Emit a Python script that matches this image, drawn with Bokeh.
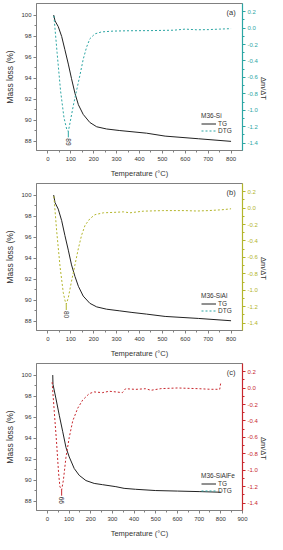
import math
from bokeh.plotting import figure
from bokeh.layouts import column
from bokeh.models import (Range1d, LinearAxis, Legend, LegendItem, Label,
                          FixedTicker, ColumnDataSource, PrintfTickFormatter)
from bokeh.core.properties import value
from bokeh.embed import file_html
from bokeh.resources import INLINE

# ---------------- data ----------------
# Panel (a) M36-Si
a_tg_T = [25, 31, 45, 60, 74, 89, 103, 118, 133, 154, 183, 213, 256, 314, 431, 512, 657, 800]
a_tg_m = [100.0, 99.44, 98.9, 97.96, 96.7, 95.33, 93.94, 92.55, 91.46, 90.54, 89.77, 89.36,
          89.15, 89.0, 88.75, 88.47, 88.22, 87.97]
a_dtg_T = [26, 40, 55, 70, 82, 89, 98, 111, 125, 140, 154, 169, 183, 205, 234, 285, 350, 450,
           550, 600, 650, 700, 750, 800]
a_dtg_v = [0.15, -0.30, -0.76, -1.09, -1.23, -1.26, -1.13, -0.94, -0.76, -0.57, -0.38, -0.23,
           -0.13, -0.07, -0.046, -0.036, -0.032, -0.030, -0.025, -0.012, -0.020, -0.018,
           -0.012, -0.006]
a_peak = ["89"]

# Panel (b) M36-SiAl
b_tg_T = [25, 31, 45, 60, 74, 89, 103, 118, 133, 154, 183, 213, 256, 314, 367, 431, 512, 657, 800]
b_tg_m = [100.0, 99.28, 98.66, 97.56, 96.16, 94.75, 93.35, 92.25, 91.31, 90.38, 89.69, 89.35,
          89.13, 88.97, 88.82, 88.66, 88.44, 88.25, 88.03]
b_dtg_T = [26, 38, 53, 67, 75, 80, 89, 103, 118, 133, 147, 162, 183, 205, 242, 300, 330, 358,
           416, 500, 600, 650, 700, 760, 800]
b_dtg_v = [0.144, -0.275, -0.715, -1.03, -1.13, -1.17, -1.09, -0.89, -0.69, -0.49, -0.33, -0.21,
           -0.13, -0.08, -0.057, -0.050, -0.045, -0.057, -0.037, -0.030, -0.030, -0.035,
           -0.030, -0.020, -0.008]
b_peak = ["80"]

# Panel (c) M36-SiAlFe
c_tg_T = [25, 26, 40, 55, 71, 86, 101, 124, 147, 178, 216, 254, 316, 354, 407, 500, 600, 700, 800]
c_tg_m = [100.0, 99.12, 97.72, 96.17, 94.6, 93.1, 92.2, 91.1, 90.45, 89.95, 89.68, 89.56, 89.37,
          89.21, 89.12, 89.0, 88.95, 88.9, 88.84]
c_dtg_T = [22, 32, 43, 52, 58, 66, 74, 86, 101, 117, 140, 163, 193, 216, 254, 285, 316, 346,
           361, 407, 453, 478, 524, 600, 692, 753, 795, 800]
c_dtg_v = [0.073, -0.285, -0.68, -1.04, -1.20, -1.24, -1.12, -0.84, -0.60, -0.40, -0.245, -0.145,
           -0.067, -0.046, -0.055, -0.038, -0.046, -0.055, -0.007, -0.015, -0.007, -0.026,
           -0.006, 0.002, -0.006, -0.014, -0.014, 0.073]
c_peak = ["66"]

mass_ticks = [88, 90, 92, 94, 96, 98, 100]
dtg_ticks = [-1.4, -1.2, -1.0, -0.8, -0.6, -0.4, -0.2, 0.0, 0.2]

FONT = "Liberation Sans"
TXT = "#333333"
FRAME = "#808080"
LEGEND_DTG = "#2ca6a4"


def panel(tag, sample, tgT, tgm, dT, dv, peak, color, xmax, xticks, tag_x):
    p = figure(width=275, height=180, output_backend="svg", toolbar_location=None,
               x_range=Range1d(-50, xmax), y_range=Range1d(87.1, 101.1),
               min_border_left=36, min_border_right=32, min_border_top=3,
               min_border_bottom=27)
    p.extra_y_ranges = {"dtg": Range1d(-1.49, 0.30)}
    p.xgrid.visible = False
    p.ygrid.visible = False
    p.outline_line_color = FRAME
    p.outline_line_width = 1

    ya = p.yaxis[0]
    ya.ticker = FixedTicker(ticks=mass_ticks, minor_ticks=[t + 1 for t in mass_ticks[:-1]])
    ya.axis_label = "Mass loss (%)"
    xa = p.xaxis[0]
    xa.ticker = FixedTicker(ticks=xticks, minor_ticks=[t + 50 for t in xticks[:-1]])
    xa.axis_label = "Temperature (\u00b0C)"
    for ax in (xa, ya):
        ax.axis_line_color = FRAME
        ax.major_tick_line_color = FRAME
        ax.minor_tick_line_color = FRAME
        ax.major_tick_in = 0
        ax.major_tick_out = 3
        ax.minor_tick_in = 0
        ax.minor_tick_out = 2
        ax.major_label_text_font = FONT
        ax.major_label_text_font_size = "6px"
        ax.major_label_text_color = TXT
        ax.major_label_standoff = 2
        ax.axis_label_text_font = FONT
        ax.axis_label_text_font_style = "normal"
        ax.axis_label_text_color = TXT
    xa.axis_label_text_font_size = "7.5px"
    xa.major_label_standoff = 3
    xa.axis_label_standoff = 5
    ya.axis_label_text_font_size = "8.5px"
    ya.axis_label_standoff = 3

    ra = LinearAxis(y_range_name="dtg", axis_label="\u0394m/\u0394T")
    ra.ticker = FixedTicker(ticks=dtg_ticks,
                            minor_ticks=[round(t + 0.1, 2) for t in dtg_ticks[:-1]])
    ra.formatter = PrintfTickFormatter(format="%.1f")
    ra.axis_line_color = color
    ra.axis_line_width = 1.2
    ra.major_tick_line_color = color
    ra.minor_tick_line_color = color
    ra.major_tick_in = 0
    ra.major_tick_out = 3
    ra.minor_tick_in = 0
    ra.minor_tick_out = 2
    ra.major_label_text_font = FONT
    ra.major_label_text_font_size = "6px"
    ra.major_label_text_color = color
    ra.major_label_standoff = 2
    ra.axis_label_text_font = FONT
    ra.axis_label_text_font_size = "7.5px"
    ra.axis_label_text_font_style = "normal"
    ra.axis_label_text_color = TXT
    ra.axis_label_standoff = 3
    if "axis_label_orientation" in ra.properties():
        ra.axis_label_orientation = -math.pi / 2
    p.add_layout(ra, "right")

    tg_r = p.line(tgT, tgm, line_color="#222222", line_width=1)
    p.line(dT, dv, y_range_name="dtg", line_color=color, line_width=1, line_dash="2 2")

    # peak annotation
    i = dv.index(min(dv))
    pk = ColumnDataSource(dict(x=[dT[i]], y0=[dv[i]], y1=[dv[i] - 0.07], t=peak))
    p.segment(x0="x", y0="y0", x1="x", y1="y1", source=pk, y_range_name="dtg",
              line_color=color, line_width=1)
    p.text(x="x", y="y1", text="t", source=pk, y_range_name="dtg", angle=-math.pi / 2,
           text_align="left", text_baseline="middle", text_font=value(FONT),
           text_font_size="6.5px", text_color=TXT, y_offset=1)

    # legend sample for DTG (teal dashed in every panel, as in the original)
    leg_r = p.line(dT[:1], dv[:1], y_range_name="dtg", line_color=LEGEND_DTG,
                   line_width=1, line_dash="2 2")
    legend = Legend(items=[LegendItem(label="TG", renderers=[tg_r]),
                           LegendItem(label="DTG", renderers=[leg_r])],
                    title=sample, location=(164, 15))
    legend.title_text_font = FONT
    legend.title_text_font_size = "6.5px"
    legend.title_text_font_style = "normal"
    legend.title_text_color = TXT
    legend.title_standoff = 1
    legend.label_text_font = FONT
    legend.label_text_font_size = "6.5px"
    legend.label_text_color = TXT
    legend.label_height = 7
    legend.label_standoff = 2
    legend.glyph_height = 7
    legend.glyph_width = 15
    legend.spacing = 0
    legend.padding = 1
    legend.margin = 0
    legend.border_line_alpha = 0
    legend.background_fill_alpha = 0
    p.add_layout(legend, "center")

    p.add_layout(Label(x=tag_x, y=100.2, text=tag, text_align="right",
                       text_baseline="middle", text_font=FONT,
                       text_font_size="7.5px", text_color=TXT))
    return p


teal = "#2ca6a4"
olive = "#b3b52c"
red = "#c8282e"
x8 = [0, 100, 200, 300, 400, 500, 600, 700, 800]
x9 = [0, 100, 200, 300, 400, 500, 600, 700, 800, 900]

pa = panel("(a)", "M36-Si", a_tg_T, a_tg_m, a_dtg_T, a_dtg_v, a_peak, teal, 850, x8, 820)
pb = panel("(b)", "M36-SiAl", b_tg_T, b_tg_m, b_dtg_T, b_dtg_v, b_peak, olive, 850, x8, 820)
pc = panel("(c)", "M36-SiAlFe", c_tg_T, c_tg_m, c_dtg_T, c_dtg_v, c_peak, red, 900, x9, 868)

layout = column(pa, pb, pc, spacing=0)
open("out.html", "w").write(file_html(layout, INLINE))
